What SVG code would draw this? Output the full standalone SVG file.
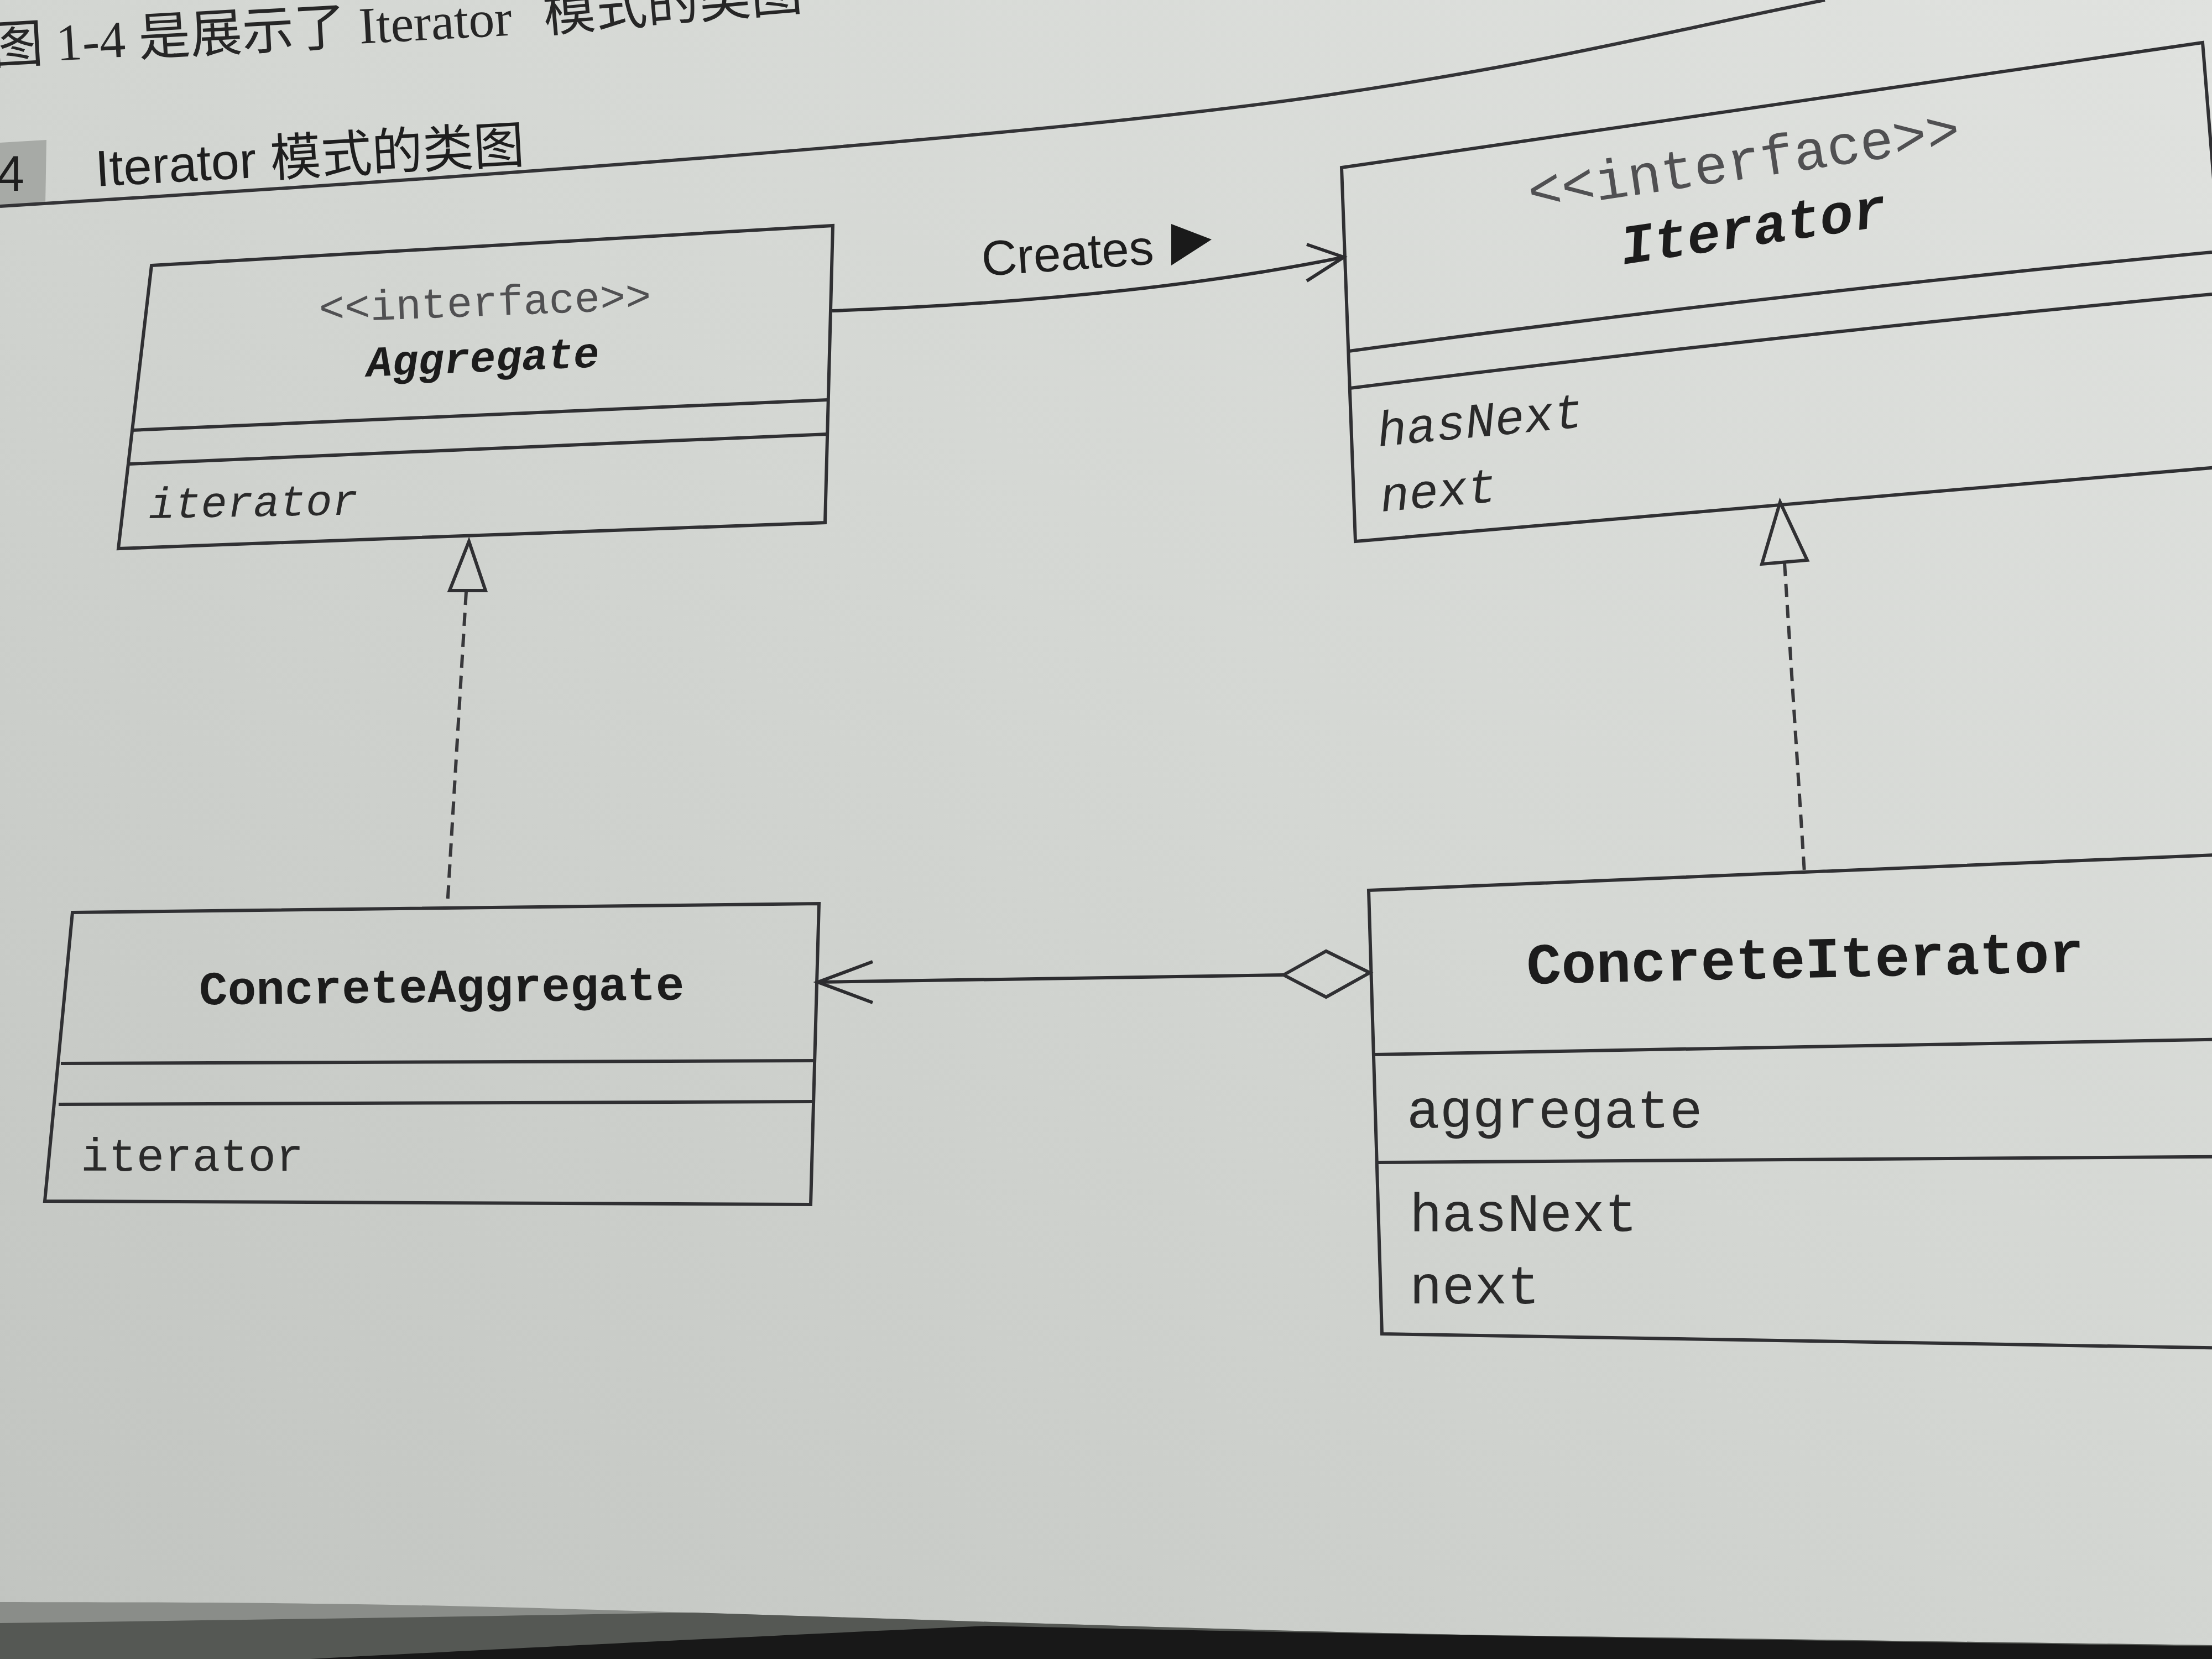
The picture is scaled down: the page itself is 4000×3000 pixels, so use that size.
<svg xmlns="http://www.w3.org/2000/svg" width="4000" height="3000" viewBox="0 0 4000 3000">
<defs>
  <linearGradient id="paper" x1="1" y1="0" x2="0" y2="1">
    <stop offset="0" stop-color="#e0e2df"/>
    <stop offset="0.45" stop-color="#d4d7d3"/>
    <stop offset="1" stop-color="#c1c4c0"/>
  </linearGradient>
  <style>
    .box{fill:none;stroke:#303033;stroke-width:6;stroke-linejoin:miter}
    .div{fill:none;stroke:#303033;stroke-width:6}
    .edge{fill:none;stroke:#2c2c2f;stroke-width:6}
    .dash{fill:none;stroke:#38383b;stroke-width:6;stroke-dasharray:24 14}
    .hollow{fill:none;stroke:#303033;stroke-width:6;stroke-linejoin:miter}
    .mono{font-family:"Liberation Mono","DejaVu Sans Mono",monospace;fill:#2a2a2a}
    .stereo{fill:#505052}
    .cls{font-weight:bold;fill:#1c1c1c}
    .abs{font-style:italic}
    .sans{font-family:"Liberation Sans","Noto Sans CJK SC",sans-serif;fill:#1e1e1e}
    .serif{font-family:"Liberation Serif","Noto Sans CJK SC",serif;fill:#262626}
  </style>
</defs>

<!-- paper -->
<rect x="0" y="0" width="4000" height="3000" fill="url(#paper)"/>

<!-- page heading and figure caption -->
<g id="heading">
  <text class="serif" x="-14" y="116" font-size="94" transform="rotate(-3.2 -14 116)">图 1-4 是展示了 Iterator</text>
  <text class="serif" x="985" y="58" font-size="94" transform="rotate(-5 985 58)">模式的类图</text>
  <polygon points="0,258 84,253 82,370 0,373" fill="#a7aaa6"/>
  <text class="sans" x="-6" y="345" font-size="90">4</text>
  <text class="sans" x="174" y="337" font-size="92" transform="rotate(-3.2 174 337)">Iterator 模式的类图</text>
  <path d="M0,373 C1200,300 2000,230 2400,172 S3000,60 3300,0" fill="none" stroke="#333336" stroke-width="6"/>
</g>

<!-- interface Aggregate -->
<g id="aggregate">
  <polygon class="box" points="274,480 1506,408 1492,945 214,992"/>
  <line class="div" x1="239" y1="778" x2="1497" y2="723"/>
  <line class="div" x1="234" y1="839" x2="1497" y2="785"/>
  <text class="mono stereo" x="878" y="571" font-size="77" text-anchor="middle" transform="rotate(-2.2 878 571)">&lt;&lt;interface&gt;&gt;</text>
  <text class="mono cls abs" x="874" y="672" font-size="78" text-anchor="middle" transform="rotate(-2.4 874 672)">Aggregate</text>
  <text class="mono abs" x="269" y="937" font-size="79" transform="rotate(-1 269 937)">iterator</text>
</g>

<!-- interface Iterator -->
<g id="iterator">
  <polygon class="box" points="2426,303 3983,77 4045,842 2451,979"/>
  <path class="div" d="M2439,635 Q3220,530 4000,456"/>
  <path class="div" d="M2441,702 Q3220,605 4000,532"/>
  <text class="mono stereo" x="3158" y="323" font-size="101" text-anchor="middle" transform="rotate(-8.4 3158 323)">&lt;&lt;interface&gt;&gt;</text>
  <text class="mono cls abs" x="3175" y="443" font-size="101" text-anchor="middle" transform="rotate(-8.3 3175 443)">Iterator</text>
  <text class="mono abs" x="2493" y="807" font-size="89" transform="rotate(-5.4 2493 807)">hasNext</text>
  <text class="mono abs" x="2498" y="925" font-size="88" transform="rotate(-5 2498 925)">next</text>
</g>

<!-- class ConcreteAggregate -->
<g id="concrete-aggregate">
  <polygon class="box" points="131,1650 1481,1634 1466,2178 81,2172"/>
  <line class="div" x1="110" y1="1923" x2="1473" y2="1918"/>
  <line class="div" x1="106" y1="1997" x2="1472" y2="1992"/>
  <text class="mono cls" x="799" y="1812" font-size="86" text-anchor="middle" transform="rotate(-0.6 799 1812)">ConcreteAggregate</text>
  <text class="mono" x="146" y="2117" font-size="84">iterator</text>
</g>

<!-- class ConcreteIterator -->
<g id="concrete-iterator">
  <polygon class="box" points="2475,1610 4100,1542 4100,2439 2499,2412"/>
  <line class="div" x1="2485" y1="1907" x2="4100" y2="1878"/>
  <line class="div" x1="2490" y1="2102" x2="4100" y2="2091"/>
  <text class="mono cls" x="3265" y="1768" font-size="105" text-anchor="middle" transform="rotate(-1.25 3265 1768)">ConcreteIterator</text>
  <text class="mono" x="2544" y="2039" font-size="99">aggregate</text>
  <text class="mono" x="2549" y="2226" font-size="98">hasNext</text>
  <text class="mono" x="2549" y="2357" font-size="98">next</text>
</g>

<!-- relations -->
<g id="connectors">
  <!-- Aggregate creates Iterator -->
  <path class="edge" d="M1505,562 Q2050,542 2430,465"/>
  <polyline class="edge" points="2363,442 2430,465 2363,508"/>
  <text class="sans" x="1777" y="499" font-size="89" transform="rotate(-4 1777 499)">Creates</text>
  <polygon fill="#1a1a1a" points="2118,405 2191,433 2118,480"/>
  <!-- realizations -->
  <line class="dash" x1="843" y1="1070" x2="809" y2="1638"/>
  <polygon class="hollow" points="848,979 878,1068 813,1068"/>
  <line class="dash" x1="3227" y1="1018" x2="3263" y2="1578"/>
  <polygon class="hollow" points="3219,908 3268,1013 3186,1020"/>
  <!-- aggregation -->
  <line class="edge" stroke-width="7" x1="1479" y1="1776" x2="2321" y2="1763"/>
  <polyline class="edge" points="1578,1739 1479,1776 1578,1813"/>
  <polygon class="hollow" points="2321,1763 2398,1720 2477,1759 2398,1803"/>
</g>

<!-- page edge and table below the book -->
<path d="M0,2897 C300,2898 600,2896 1148,2913 C1700,2930 2300,2950 2700,2957 L4000,2975 L4000,3000 L0,3000 Z" fill="#8a8d89"/>
<path d="M0,2935 C400,2930 800,2924 1250,2916 C1700,2930 2300,2950 2700,2957 L4000,2975 L4000,3000 L0,3000 Z" fill="#555854"/>
<path d="M561,3000 C900,2982 1300,2962 1786,2940 C2300,2952 2800,2960 4000,2977 L4000,3000 Z" fill="#181818"/>
</svg>
